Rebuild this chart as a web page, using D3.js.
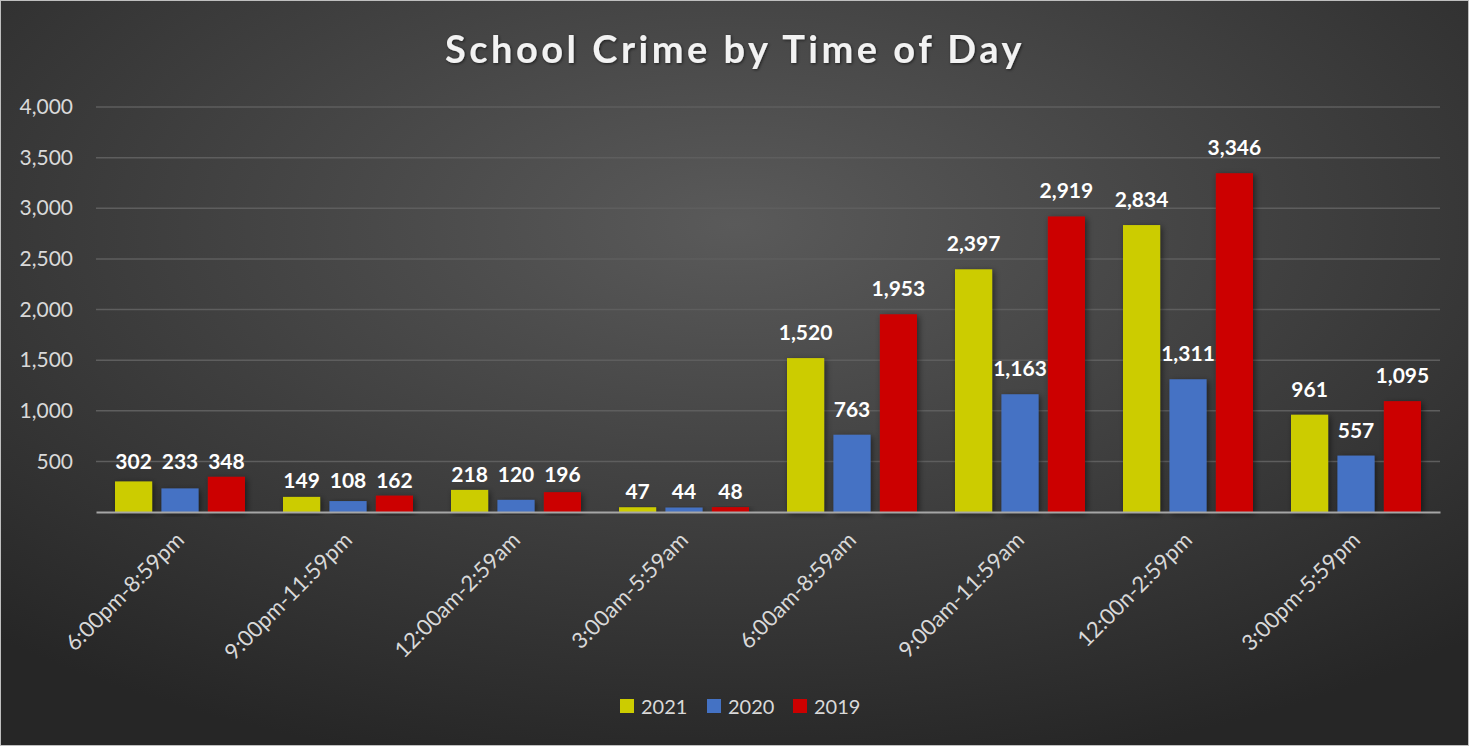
<!DOCTYPE html>
<html>
<head>
<meta charset="utf-8">
<script src="https://cdn.jsdelivr.net/npm/d3@7"></script>
<style>
  body { margin: 0; background: #222; }
  text { font-family: Lato, "Open Sans", sans-serif; }
</style>
</head>
<body>
<div id="chart"></div>
<script>
var categories = ["6:00pm-8:59pm", "9:00pm-11:59pm", "12:00am-2:59am", "3:00am-5:59am",
                  "6:00am-8:59am", "9:00am-11:59am", "12:00n-2:59pm", "3:00pm-5:59pm"];
var years = ["2021", "2020", "2019"];
var v2021 = [302, 149, 218, 47, 1520, 2397, 2834, 961];
var v2020 = [233, 108, 120, 44, 763, 1163, 1311, 557];
var v2019 = [348, 162, 196, 48, 1953, 2919, 3346, 1095];
var yTicks = [500, 1000, 1500, 2000, 2500, 3000, 3500, 4000];
var colors = ["#cccc00", "#4472c4", "#cc0000"];

var series = [v2021, v2020, v2019];
var W = 1469, H = 746;
var margin = {top: 107, right: 29, bottom: 234, left: 96},
    width = W - margin.left - margin.right,
    height = H - margin.top - margin.bottom;

var root = d3.select("#chart").append("svg")
    .attr("width", W).attr("height", H);

var defs = root.append("defs");
var grad = defs.append("radialGradient")
    .attr("id", "bg").attr("cx", "50%").attr("cy", "30%").attr("r", "75%");
grad.append("stop").attr("offset", "0%").attr("stop-color", "#5a5a5a");
grad.append("stop").attr("offset", "100%").attr("stop-color", "#262626");

var shadow = defs.append("filter").attr("id", "shadow")
    .attr("x", "-20%").attr("y", "-20%").attr("width", "160%").attr("height", "140%");
shadow.append("feDropShadow").attr("dx", 2).attr("dy", 2).attr("stdDeviation", 3)
    .attr("flood-color", "#000").attr("flood-opacity", 0.5);

var tshadow = defs.append("filter").attr("id", "tshadow");
tshadow.append("feDropShadow").attr("dx", 1).attr("dy", 1).attr("stdDeviation", 1.5)
    .attr("flood-color", "#000").attr("flood-opacity", 0.6);

root.append("rect").attr("x", 0.5).attr("y", 0.5).attr("width", W - 1).attr("height", H - 1)
    .attr("fill", "url(#bg)").attr("stroke", "#bfbfbf").attr("stroke-width", 1);

// title
root.append("text")
    .attr("x", 735).attr("y", 63)
    .attr("text-anchor", "middle")
    .attr("fill", "#f2f2f2")
    .attr("font-size", 38).attr("font-weight", "bold")
    .attr("letter-spacing", 3.5)
    .attr("filter", "url(#tshadow)")
    .text("School Crime by Time of Day");

var svg = root.append("g")
    .attr("transform", "translate(" + margin.left + "," + margin.top + ")");

var x = d3.scaleBand().domain(categories).range([0, width]).paddingInner(0).paddingOuter(0);
var xs = d3.scaleBand().domain(years).range([19, x.bandwidth() - 19])
    .paddingInner(0.2).paddingOuter(0);
var y = d3.scaleLinear().domain([0, 4000]).range([height, 0]);

// grid
svg.selectAll(".grid").data(yTicks).enter().append("line")
    .attr("x1", 0).attr("x2", width)
    .attr("y1", function (d) { return y(d); }).attr("y2", function (d) { return y(d); })
    .attr("stroke", "#5e5e5e").attr("stroke-width", 1.5);

// y axis
var yAxis = d3.axisLeft(y).tickValues(yTicks).tickSize(0).tickPadding(23)
    .tickFormat(d3.format(","));
var gy = svg.append("g").call(yAxis);
gy.select(".domain").remove();
gy.selectAll("text").attr("fill", "#d9d9d9").attr("font-size", 21)
    .style("font-family", "Lato, 'Open Sans', sans-serif");

// bars
var groups = svg.selectAll(".grp").data(categories).enter().append("g")
    .attr("transform", function (d) { return "translate(" + x(d) + ",0)"; });

groups.each(function (cat, i) {
    var g = d3.select(this);
    var gmax = d3.max(series, function (s) { return s[i]; });
    years.forEach(function (yr, j) {
        var v = series[j][i];
        g.append("rect")
            .attr("x", xs(yr)).attr("width", xs.bandwidth())
            .attr("y", y(v)).attr("height", height - y(v))
            .attr("fill", colors[j])
            .attr("filter", "url(#shadow)");
        // small groups: labels sit on one line above the tallest bar
        var ly = gmax < 500 ? y(gmax) - 8 : y(v) - 18;
        g.append("text")
            .attr("x", xs(yr) + xs.bandwidth() / 2)
            .attr("y", ly)
            .attr("text-anchor", "middle")
            .attr("fill", "#ffffff")
            .attr("font-size", 21).attr("font-weight", "bold")
            .text(d3.format(",")(v));
    });
});

// x axis
var xAxis = d3.axisBottom(x).tickSize(0).tickPadding(0);
var gx = svg.append("g").attr("transform", "translate(0," + height + ")").call(xAxis);
gx.select(".domain").attr("stroke", "#a6a6a6").attr("stroke-width", 2);
gx.selectAll("text")
    .attr("fill", "#d9d9d9").attr("font-size", 22)
    .style("font-family", "Lato, 'Open Sans', sans-serif")
    .attr("text-anchor", "end")
    .attr("dy", "0.35em")
    .attr("transform", "translate(0,24) rotate(-45)");

// legend
var legend = root.append("g").attr("transform", "translate(620,699)");
var lx = [0, 87, 173];
years.forEach(function (yr, j) {
    var item = legend.append("g").attr("transform", "translate(" + lx[j] + ",0)");
    item.append("rect").attr("width", 14).attr("height", 14).attr("fill", colors[j]);
    item.append("text").attr("x", 21).attr("y", 15)
        .attr("fill", "#d9d9d9").attr("font-size", 20).text(yr);
});
</script>
</body>
</html>
